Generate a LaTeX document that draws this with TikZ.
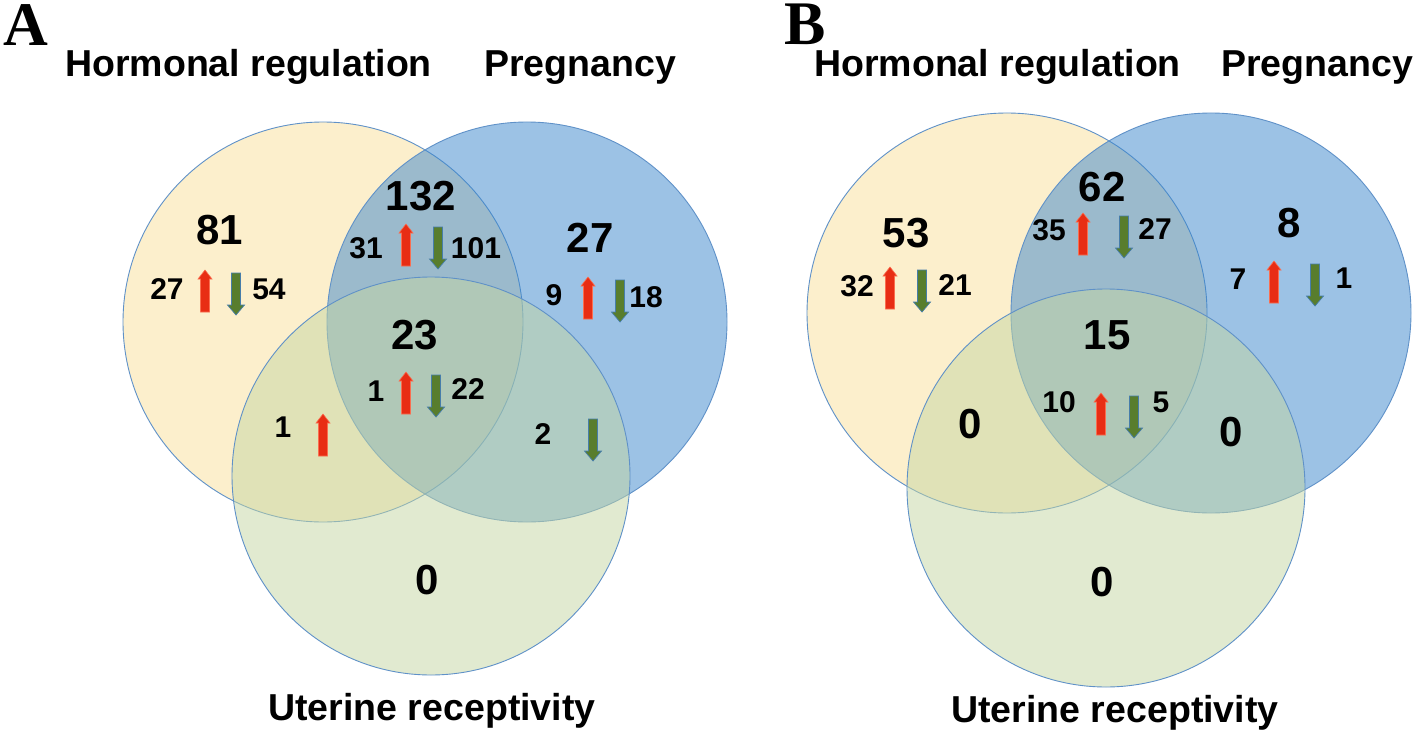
\documentclass[tikz,border=0pt]{standalone}
\usepackage{fontspec}
\setmainfont{Liberation Sans}
\newfontfamily\panelfont{Liberation Serif}
\definecolor{hcol}{RGB}{251,225,155}
\definecolor{pcol}{RGB}{59,135,205}
\definecolor{ucol}{RGB}{197,215,163}
\definecolor{edgecol}{RGB}{95,145,200}
\definecolor{upred}{RGB}{232,45,20}
\definecolor{upredline}{RGB}{250,110,80}
\definecolor{downgreen}{RGB}{88,125,45}
\definecolor{downline}{RGB}{70,125,170}
\tikzset{
  venn/.style={draw=edgecol, line width=0.9pt, fill opacity=0.5},
  big/.style={font=\fontsize{42}{44}\selectfont\bfseries, inner sep=0pt},
  small/.style={font=\fontsize{30}{32}\selectfont\bfseries, inner sep=0pt},
  head/.style={font=\fontsize{37.5}{40}\selectfont\bfseries, inner sep=0pt, anchor=base west},
  foot/.style={font=\fontsize{37.5}{40}\selectfont\bfseries, inner sep=0pt, anchor=base},
  panel/.style={font=\panelfont\fontsize{62}{64}\selectfont\bfseries, inner sep=0pt, anchor=north west},
  uparr/.pic={\filldraw[fill=upred, draw=upredline, line width=0.6pt]
      (-4.5,21) -- (-4.5,-12) -- (-7,-12) -- (0,-21) -- (7,-12) -- (4.5,-12) -- (4.5,21) -- cycle;},
  downarr/.pic={\filldraw[fill=downgreen, draw=downline, line width=0.7pt]
      (-4.5,-21) -- (4.5,-21) -- (4.5,11) -- (8.5,11) -- (0,21) -- (-8.5,11) -- (-4.5,11) -- cycle;}
}
\begin{document}
\begin{tikzpicture}[x=1pt, y=-1pt]
\useasboundingbox (0,0) rectangle (1416,733);
\fill[white] (0,0) rectangle (1416,733);
% ---------------- Panel A ----------------
\node[panel] (pa) at (3,4) {A};
\node[head] (ha) at (65,77) {Hormonal regulation};
\node[head] (pga) at (484,77) {Pregnancy};
\node[foot] (ua) at (432,720) {Uterine receptivity};
\draw[venn, fill=hcol] (323,322) circle[radius=200pt];
\draw[venn, fill=pcol] (527,322) circle[radius=200pt];
\draw[venn, fill=ucol] (431,476) circle[radius=199pt];
% H only
\node[big] (a81) at (220,230) {81};
\node[small] (a27) at (167,289) {27};
\pic at (205,291) {uparr};
\pic at (236,294) {downarr};
\node[small] (a54) at (269,289) {54};
% H and P
\node[big] (a132) at (421,196) {132};
\node[small] (a31) at (366,248) {31};
\pic at (406,245) {uparr};
\pic at (438,248) {downarr};
\node[small] (a101) at (476,248) {101};
% P only
\node[big] (a27p) at (590,238) {27};
\node[small] (a9) at (554,295) {9};
\pic at (588,298) {uparr};
\pic at (620,301) {downarr};
\node[small] (a18) at (646,297) {18};
% all three
\node[big] (a23) at (415,335) {23};
\node[small] (a1c) at (376,391) {1};
\pic at (406,393) {uparr};
\pic at (436,396) {downarr};
\node[small] (a22) at (468,389) {22};
% H and U
\node[small] (a1hu) at (283,427) {1};
\pic at (323,435) {uparr};
% P and U
\node[small] (a2) at (543,434) {2};
\pic at (593,440) {downarr};
% U only
\node[big] (a0) at (427,580) {0};
% ---------------- Panel B ----------------
\node[panel] (pb) at (784,4) {B};
\node[head] (hb) at (814,77) {Hormonal regulation};
\node[head] (pgb) at (1221,77) {Pregnancy};
\node[foot] (ub) at (1115,722) {Uterine receptivity};
\draw[venn, fill=hcol] (1007,313) circle[radius=200pt];
\draw[venn, fill=pcol] (1211,313) circle[radius=200pt];
\draw[venn, fill=ucol] (1106,488) circle[radius=199pt];
% H only
\node[big] (b53) at (906,233) {53};
\node[small] (b32) at (857,286) {32};
\pic at (890,288) {uparr};
\pic at (922,291) {downarr};
\node[small] (b21) at (955,285) {21};
% H and P
\node[big] (b62) at (1102,187) {62};
\node[small] (b35) at (1049,230) {35};
\pic at (1083,234) {uparr};
\pic at (1124,237) {downarr};
\node[small] (b27) at (1155,229) {27};
% P only
\node[big] (b8) at (1289,223) {8};
\node[small] (b7) at (1238,279) {7};
\pic at (1274,282) {uparr};
\pic at (1315,285) {downarr};
\node[small] (b1) at (1344,278) {1};
% all three
\node[big] (b15) at (1107,335) {15};
\node[small] (b10) at (1059,402) {10};
\pic at (1101,414) {uparr};
\pic at (1134,417) {downarr};
\node[small] (b5) at (1161,402) {5};
% pairwise with U and U only
\node[big] (b0l) at (970,424) {0};
\node[big] (b0r) at (1231,432) {0};
\node[big] (b0b) at (1102,582) {0};
\end{tikzpicture}
\end{document}
